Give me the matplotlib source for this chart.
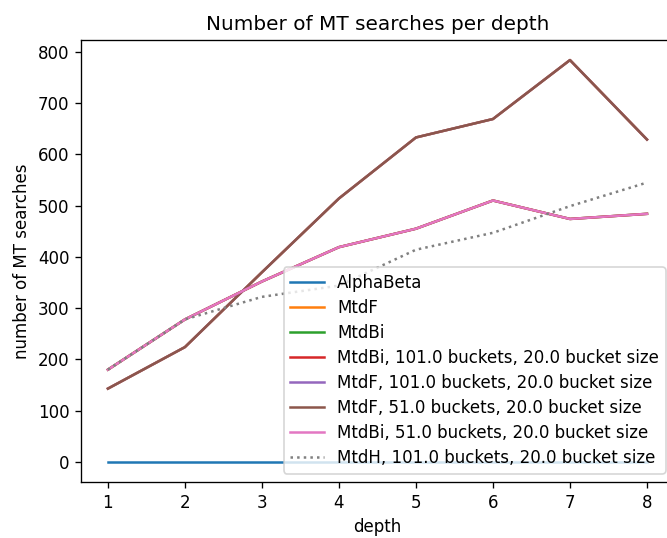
import matplotlib
matplotlib.use("Agg")
import matplotlib.pyplot as plt

depths = [1, 2, 3, 4, 5, 6, 7, 8]

alphabeta = [0, 0, 0, 0, 0, 0, 0, 0]
mtdf = [143, 224, 370, 514, 633, 669, 784, 629]
mtdbi = [180, 278, 352, 419, 455, 510, 474, 484]
mtdbi_101 = [180, 278, 352, 419, 455, 510, 474, 484]
mtdf_101 = [143, 224, 370, 514, 633, 669, 784, 629]
mtdf_51 = [143, 224, 370, 514, 633, 669, 784, 629]
mtdbi_51 = [180, 278, 352, 419, 455, 510, 474, 484]
mtdh_101 = [180, 278, 322, 344, 414, 447, 499, 545]

DPI = 120
fig = plt.figure(figsize=(667 / DPI, 538 / DPI), dpi=DPI)
ax = fig.add_axes([0.1214, 0.1041, 0.889, 0.8216])

ax.plot(depths, alphabeta, label="AlphaBeta")
ax.plot(depths, mtdf, label="MtdF")
ax.plot(depths, mtdbi, label="MtdBi")
ax.plot(depths, mtdbi_101, label="MtdBi, 101.0 buckets, 20.0 bucket size")
ax.plot(depths, mtdf_101, label="MtdF, 101.0 buckets, 20.0 bucket size")
ax.plot(depths, mtdf_51, label="MtdF, 51.0 buckets, 20.0 bucket size")
ax.plot(depths, mtdbi_51, label="MtdBi, 51.0 buckets, 20.0 bucket size")
ax.plot(depths, mtdh_101, ":", color="grey",
        label="MtdH, 101.0 buckets, 20.0 bucket size")

ax.set_title("Number of MT searches per depth")
ax.set_xlabel("depth")
ax.set_ylabel("number of MT searches")
ax.legend(loc="lower right", labelspacing=0.42)

fig.savefig("out.png", dpi=DPI)
